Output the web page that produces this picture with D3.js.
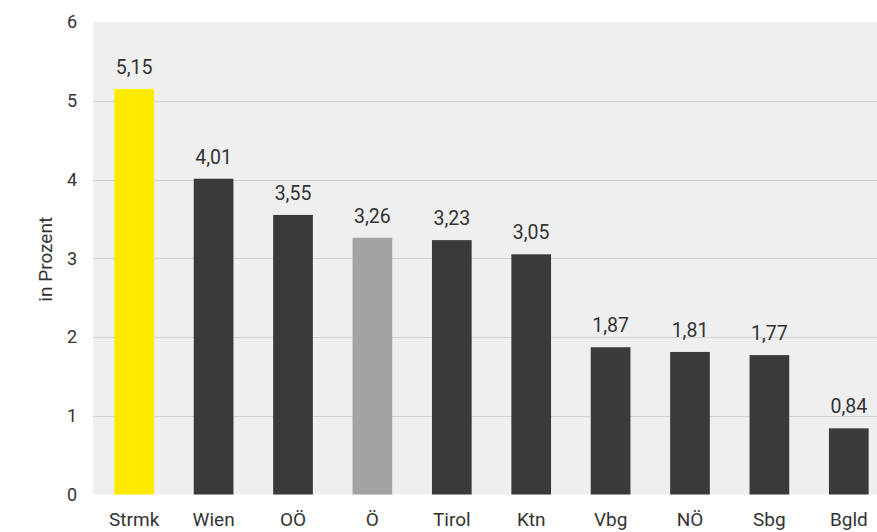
<!DOCTYPE html>
<html>
<head>
<meta charset="utf-8">
<script src="https://cdn.jsdelivr.net/npm/d3@7"></script>
<style>
  html, body { margin: 0; padding: 0; background: #ffffff; }
  svg { display: block; }
  text { font-family: Roboto, "Noto Sans", sans-serif; fill: #333333; }
</style>
</head>
<body>
<div id="chart"></div>
<script>
// Bundesländer and their shares (in Prozent)
const categories = ["Strmk", "Wien", "OÖ", "Ö", "Tirol", "Ktn", "Vbg", "NÖ", "Sbg", "Bgld"];
const values = [5.15, 4.01, 3.55, 3.26, 3.23, 3.05, 1.87, 1.81, 1.77, 0.84];
const yTicks = [0, 1, 2, 3, 4, 5, 6];
const highlight = { "Strmk": "#ffea00", "Ö": "#a3a3a3" };
const defaultColor = "#3a3a3a";

const width = 877, height = 532;
const plot = { left: 93, top: 22, right: 877, bottom: 494.5 };

const svg = d3.select("#chart").append("svg")
  .attr("width", width).attr("height", height);

const x = d3.scaleBand()
  .domain(categories)
  .range([94.5, 888.5])
  .paddingInner(0.5)
  .paddingOuter(0.25);

const y = d3.scaleLinear()
  .domain([0, 6])
  .range([plot.bottom, plot.top]);

// plot background
svg.append("rect")
  .attr("x", plot.left).attr("y", plot.top)
  .attr("width", plot.right - plot.left)
  .attr("height", plot.bottom - plot.top)
  .attr("fill", "#efefef");

// horizontal gridlines
svg.append("g").selectAll("line")
  .data(yTicks.filter(t => t > 0 && t < 6))
  .join("line")
  .attr("x1", plot.left).attr("x2", plot.right)
  .attr("y1", d => Math.round(y(d)) + 0.5).attr("y2", d => Math.round(y(d)) + 0.5)
  .attr("stroke", "#d2d2d2").attr("stroke-width", 1.2);

// y axis tick labels
const yAxis = d3.axisLeft(y).tickValues(yTicks).tickSize(0).tickPadding(0)
  .tickFormat(d3.format("d"));
const gy = svg.append("g").attr("transform", "translate(77,0)").call(yAxis);
gy.select(".domain").remove();
gy.selectAll("text")
  .attr("font-size", 18)
  .attr("font-family", "Roboto, sans-serif")
  .attr("fill", "#333");

// axis title
svg.append("text")
  .attr("transform", `translate(52,${(plot.top + plot.bottom) / 2 + 1}) rotate(-90)`)
  .attr("text-anchor", "middle")
  .attr("font-size", 19)
  .text("in Prozent");

// bars
svg.append("g").selectAll("rect")
  .data(categories)
  .join("rect")
  .attr("x", d => x(d))
  .attr("width", x.bandwidth())
  .attr("y", (d, i) => y(values[i]))
  .attr("height", (d, i) => y(0) - y(values[i]))
  .attr("fill", d => highlight[d] || defaultColor);

// value labels
const fmt = v => v.toFixed(2).replace(".", ",");
svg.append("g").selectAll("text")
  .data(categories)
  .join("text")
  .attr("x", d => x(d) + x.bandwidth() / 2)
  .attr("y", (d, i) => y(values[i]) - 15)
  .attr("text-anchor", "middle")
  .attr("font-size", 19.5)
  .text((d, i) => fmt(values[i]));

// category axis
const xAxis = d3.axisBottom(x).tickSize(0).tickPadding(0);
const gx = svg.append("g").attr("transform", `translate(0,${plot.bottom + 18})`).call(xAxis);
gx.select(".domain").remove();
gx.selectAll("text")
  .attr("font-size", 19)
  .attr("font-family", "Roboto, sans-serif")
  .attr("fill", "#333");
</script>
</body>
</html>
